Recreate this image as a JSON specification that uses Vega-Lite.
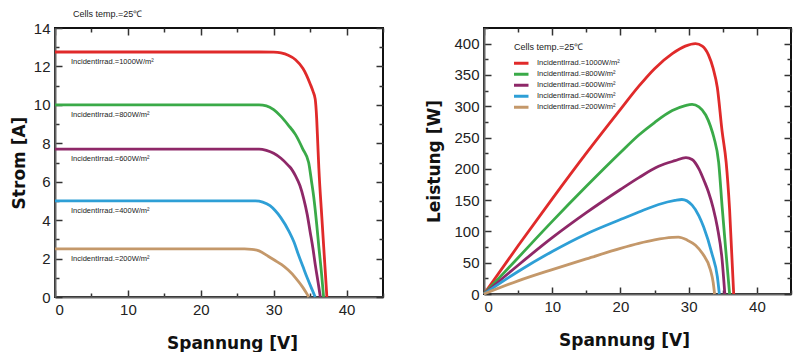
{
  "$schema": "https://vega.github.io/schema/vega-lite/v6.json",
  "background": "white",
  "padding": {"left": 9, "top": 9, "right": 6, "bottom": 0},
  "spacing": 101,
  "bounds": "flush",
  "config": {
    "view": {"stroke": "#111", "strokeWidth": 2},
    "axis": {
      "grid": false,
      "labelFont": "Liberation Sans",
      "labelFontSize": 15,
      "labelColor": "#222",
      "titleFont": "DejaVu Sans",
      "titleFontSize": 17,
      "titleFontWeight": "bold",
      "titleColor": "#111",
      "domainColor": "#666",
      "domainWidth": 2,
      "tickColor": "#333",
      "tickWidth": 1.5
    }
  },
  "datasets": {
    "iv": [
      {"s": "IncidentIrrad.=1000W/m²", "V": 0, "I": 12.75},
      {"s": "IncidentIrrad.=1000W/m²", "V": 10, "I": 12.75},
      {"s": "IncidentIrrad.=1000W/m²", "V": 20, "I": 12.75},
      {"s": "IncidentIrrad.=1000W/m²", "V": 28, "I": 12.75},
      {"s": "IncidentIrrad.=1000W/m²", "V": 30, "I": 12.74},
      {"s": "IncidentIrrad.=1000W/m²", "V": 31, "I": 12.7},
      {"s": "IncidentIrrad.=1000W/m²", "V": 32, "I": 12.58},
      {"s": "IncidentIrrad.=1000W/m²", "V": 33, "I": 12.35},
      {"s": "IncidentIrrad.=1000W/m²", "V": 34, "I": 11.9},
      {"s": "IncidentIrrad.=1000W/m²", "V": 34.5, "I": 11.55},
      {"s": "IncidentIrrad.=1000W/m²", "V": 35, "I": 11.1},
      {"s": "IncidentIrrad.=1000W/m²", "V": 35.4, "I": 10.7},
      {"s": "IncidentIrrad.=1000W/m²", "V": 35.7, "I": 10.3},
      {"s": "IncidentIrrad.=1000W/m²", "V": 35.9, "I": 9.3},
      {"s": "IncidentIrrad.=1000W/m²", "V": 36.05, "I": 8.0},
      {"s": "IncidentIrrad.=1000W/m²", "V": 36.2, "I": 6.7},
      {"s": "IncidentIrrad.=1000W/m²", "V": 36.6, "I": 4.2},
      {"s": "IncidentIrrad.=1000W/m²", "V": 37.0, "I": 1.8},
      {"s": "IncidentIrrad.=1000W/m²", "V": 37.3, "I": 0},
      {"s": "IncidentIrrad.=800W/m²", "V": 0, "I": 10.0},
      {"s": "IncidentIrrad.=800W/m²", "V": 28, "I": 10.0},
      {"s": "IncidentIrrad.=800W/m²", "V": 29, "I": 9.95},
      {"s": "IncidentIrrad.=800W/m²", "V": 30, "I": 9.75},
      {"s": "IncidentIrrad.=800W/m²", "V": 31, "I": 9.4},
      {"s": "IncidentIrrad.=800W/m²", "V": 32, "I": 8.95},
      {"s": "IncidentIrrad.=800W/m²", "V": 33, "I": 8.45},
      {"s": "IncidentIrrad.=800W/m²", "V": 34, "I": 7.7},
      {"s": "IncidentIrrad.=800W/m²", "V": 34.8, "I": 7.0},
      {"s": "IncidentIrrad.=800W/m²", "V": 35.2, "I": 6.0},
      {"s": "IncidentIrrad.=800W/m²", "V": 35.5, "I": 5.2},
      {"s": "IncidentIrrad.=800W/m²", "V": 35.9, "I": 3.8},
      {"s": "IncidentIrrad.=800W/m²", "V": 36.2, "I": 2.6},
      {"s": "IncidentIrrad.=800W/m²", "V": 36.55, "I": 1.3},
      {"s": "IncidentIrrad.=800W/m²", "V": 36.85, "I": 0},
      {"s": "IncidentIrrad.=600W/m²", "V": 0, "I": 7.7},
      {"s": "IncidentIrrad.=600W/m²", "V": 28, "I": 7.7},
      {"s": "IncidentIrrad.=600W/m²", "V": 29, "I": 7.63},
      {"s": "IncidentIrrad.=600W/m²", "V": 30, "I": 7.48},
      {"s": "IncidentIrrad.=600W/m²", "V": 31, "I": 7.22},
      {"s": "IncidentIrrad.=600W/m²", "V": 32, "I": 6.85},
      {"s": "IncidentIrrad.=600W/m²", "V": 32.5, "I": 6.63},
      {"s": "IncidentIrrad.=600W/m²", "V": 33, "I": 6.3},
      {"s": "IncidentIrrad.=600W/m²", "V": 33.6, "I": 5.8},
      {"s": "IncidentIrrad.=600W/m²", "V": 34.1, "I": 5.15},
      {"s": "IncidentIrrad.=600W/m²", "V": 34.6, "I": 4.3},
      {"s": "IncidentIrrad.=600W/m²", "V": 35, "I": 3.4},
      {"s": "IncidentIrrad.=600W/m²", "V": 35.4, "I": 2.5},
      {"s": "IncidentIrrad.=600W/m²", "V": 35.7, "I": 1.7},
      {"s": "IncidentIrrad.=600W/m²", "V": 36.1, "I": 0.75},
      {"s": "IncidentIrrad.=600W/m²", "V": 36.4, "I": 0},
      {"s": "IncidentIrrad.=400W/m²", "V": 0, "I": 5.0},
      {"s": "IncidentIrrad.=400W/m²", "V": 27.5, "I": 5.0},
      {"s": "IncidentIrrad.=400W/m²", "V": 28.5, "I": 4.94},
      {"s": "IncidentIrrad.=400W/m²", "V": 29.5, "I": 4.75},
      {"s": "IncidentIrrad.=400W/m²", "V": 30.2, "I": 4.5},
      {"s": "IncidentIrrad.=400W/m²", "V": 31, "I": 4.12},
      {"s": "IncidentIrrad.=400W/m²", "V": 32.1, "I": 3.42},
      {"s": "IncidentIrrad.=400W/m²", "V": 32.8, "I": 2.85},
      {"s": "IncidentIrrad.=400W/m²", "V": 33.4, "I": 2.2},
      {"s": "IncidentIrrad.=400W/m²", "V": 34, "I": 1.6},
      {"s": "IncidentIrrad.=400W/m²", "V": 34.6, "I": 1.0},
      {"s": "IncidentIrrad.=400W/m²", "V": 35.2, "I": 0.45},
      {"s": "IncidentIrrad.=400W/m²", "V": 35.7, "I": 0},
      {"s": "IncidentIrrad.=200W/m²", "V": 0, "I": 2.5},
      {"s": "IncidentIrrad.=200W/m²", "V": 26, "I": 2.5},
      {"s": "IncidentIrrad.=200W/m²", "V": 27, "I": 2.48},
      {"s": "IncidentIrrad.=200W/m²", "V": 28, "I": 2.4},
      {"s": "IncidentIrrad.=200W/m²", "V": 29.3, "I": 2.11},
      {"s": "IncidentIrrad.=200W/m²", "V": 30.2, "I": 1.9},
      {"s": "IncidentIrrad.=200W/m²", "V": 31.1, "I": 1.68},
      {"s": "IncidentIrrad.=200W/m²", "V": 32, "I": 1.4},
      {"s": "IncidentIrrad.=200W/m²", "V": 33, "I": 1.0},
      {"s": "IncidentIrrad.=200W/m²", "V": 34, "I": 0.5},
      {"s": "IncidentIrrad.=200W/m²", "V": 34.5, "I": 0.2},
      {"s": "IncidentIrrad.=200W/m²", "V": 34.8, "I": 0}
    ],
    "pv": [
      {"s": "IncidentIrrad.=1000W/m²", "V": 0, "P": 0},
      {"s": "IncidentIrrad.=1000W/m²", "V": 5, "P": 77},
      {"s": "IncidentIrrad.=1000W/m²", "V": 10, "P": 152},
      {"s": "IncidentIrrad.=1000W/m²", "V": 15, "P": 225},
      {"s": "IncidentIrrad.=1000W/m²", "V": 20, "P": 295},
      {"s": "IncidentIrrad.=1000W/m²", "V": 22.7, "P": 332},
      {"s": "IncidentIrrad.=1000W/m²", "V": 25, "P": 360},
      {"s": "IncidentIrrad.=1000W/m²", "V": 27.6, "P": 384},
      {"s": "IncidentIrrad.=1000W/m²", "V": 29.5, "P": 396},
      {"s": "IncidentIrrad.=1000W/m²", "V": 31, "P": 400},
      {"s": "IncidentIrrad.=1000W/m²", "V": 32, "P": 396},
      {"s": "IncidentIrrad.=1000W/m²", "V": 32.9, "P": 382},
      {"s": "IncidentIrrad.=1000W/m²", "V": 33.6, "P": 360},
      {"s": "IncidentIrrad.=1000W/m²", "V": 34.2, "P": 330},
      {"s": "IncidentIrrad.=1000W/m²", "V": 34.9, "P": 260},
      {"s": "IncidentIrrad.=1000W/m²", "V": 35.5, "P": 210},
      {"s": "IncidentIrrad.=1000W/m²", "V": 36.0, "P": 135},
      {"s": "IncidentIrrad.=1000W/m²", "V": 36.6, "P": 0},
      {"s": "IncidentIrrad.=800W/m²", "V": 0, "P": 0},
      {"s": "IncidentIrrad.=800W/m²", "V": 5, "P": 58},
      {"s": "IncidentIrrad.=800W/m²", "V": 10, "P": 116},
      {"s": "IncidentIrrad.=800W/m²", "V": 15, "P": 172},
      {"s": "IncidentIrrad.=800W/m²", "V": 20, "P": 226},
      {"s": "IncidentIrrad.=800W/m²", "V": 22.7, "P": 254},
      {"s": "IncidentIrrad.=800W/m²", "V": 25, "P": 274},
      {"s": "IncidentIrrad.=800W/m²", "V": 27.6, "P": 293},
      {"s": "IncidentIrrad.=800W/m²", "V": 29.5, "P": 301},
      {"s": "IncidentIrrad.=800W/m²", "V": 30.5, "P": 303},
      {"s": "IncidentIrrad.=800W/m²", "V": 31.5, "P": 299},
      {"s": "IncidentIrrad.=800W/m²", "V": 32.5, "P": 286},
      {"s": "IncidentIrrad.=800W/m²", "V": 33.2, "P": 268},
      {"s": "IncidentIrrad.=800W/m²", "V": 33.7, "P": 250},
      {"s": "IncidentIrrad.=800W/m²", "V": 34.4, "P": 210},
      {"s": "IncidentIrrad.=800W/m²", "V": 34.9, "P": 140},
      {"s": "IncidentIrrad.=800W/m²", "V": 35.4, "P": 75},
      {"s": "IncidentIrrad.=800W/m²", "V": 36.0, "P": 0},
      {"s": "IncidentIrrad.=600W/m²", "V": 0, "P": 0},
      {"s": "IncidentIrrad.=600W/m²", "V": 5, "P": 46},
      {"s": "IncidentIrrad.=600W/m²", "V": 10, "P": 90},
      {"s": "IncidentIrrad.=600W/m²", "V": 15, "P": 130},
      {"s": "IncidentIrrad.=600W/m²", "V": 20, "P": 167},
      {"s": "IncidentIrrad.=600W/m²", "V": 22.7, "P": 186},
      {"s": "IncidentIrrad.=600W/m²", "V": 25.6, "P": 204},
      {"s": "IncidentIrrad.=600W/m²", "V": 28, "P": 213},
      {"s": "IncidentIrrad.=600W/m²", "V": 29.6, "P": 218},
      {"s": "IncidentIrrad.=600W/m²", "V": 30.5, "P": 215},
      {"s": "IncidentIrrad.=600W/m²", "V": 31.5, "P": 200},
      {"s": "IncidentIrrad.=600W/m²", "V": 32.3, "P": 180},
      {"s": "IncidentIrrad.=600W/m²", "V": 32.9, "P": 163},
      {"s": "IncidentIrrad.=600W/m²", "V": 33.6, "P": 137},
      {"s": "IncidentIrrad.=600W/m²", "V": 34.2, "P": 107},
      {"s": "IncidentIrrad.=600W/m²", "V": 34.9, "P": 55},
      {"s": "IncidentIrrad.=600W/m²", "V": 35.3, "P": 0},
      {"s": "IncidentIrrad.=400W/m²", "V": 0, "P": 0},
      {"s": "IncidentIrrad.=400W/m²", "V": 5, "P": 36},
      {"s": "IncidentIrrad.=400W/m²", "V": 10, "P": 68},
      {"s": "IncidentIrrad.=400W/m²", "V": 15, "P": 96},
      {"s": "IncidentIrrad.=400W/m²", "V": 20, "P": 119},
      {"s": "IncidentIrrad.=400W/m²", "V": 22.7, "P": 131},
      {"s": "IncidentIrrad.=400W/m²", "V": 25.6, "P": 143},
      {"s": "IncidentIrrad.=400W/m²", "V": 28, "P": 149.5},
      {"s": "IncidentIrrad.=400W/m²", "V": 29, "P": 151},
      {"s": "IncidentIrrad.=400W/m²", "V": 30.5, "P": 142},
      {"s": "IncidentIrrad.=400W/m²", "V": 31.5, "P": 125},
      {"s": "IncidentIrrad.=400W/m²", "V": 32.2, "P": 107},
      {"s": "IncidentIrrad.=400W/m²", "V": 33.4, "P": 65},
      {"s": "IncidentIrrad.=400W/m²", "V": 34.2, "P": 28},
      {"s": "IncidentIrrad.=400W/m²", "V": 34.5, "P": 0},
      {"s": "IncidentIrrad.=200W/m²", "V": 0, "P": 0},
      {"s": "IncidentIrrad.=200W/m²", "V": 5, "P": 21},
      {"s": "IncidentIrrad.=200W/m²", "V": 10, "P": 39},
      {"s": "IncidentIrrad.=200W/m²", "V": 15, "P": 56},
      {"s": "IncidentIrrad.=200W/m²", "V": 20, "P": 73},
      {"s": "IncidentIrrad.=200W/m²", "V": 22.7, "P": 81},
      {"s": "IncidentIrrad.=200W/m²", "V": 25, "P": 86.5},
      {"s": "IncidentIrrad.=200W/m²", "V": 27.6, "P": 90.5},
      {"s": "IncidentIrrad.=200W/m²", "V": 28.5, "P": 91},
      {"s": "IncidentIrrad.=200W/m²", "V": 29.8, "P": 86},
      {"s": "IncidentIrrad.=200W/m²", "V": 31, "P": 78},
      {"s": "IncidentIrrad.=200W/m²", "V": 32, "P": 65},
      {"s": "IncidentIrrad.=200W/m²", "V": 33.2, "P": 38},
      {"s": "IncidentIrrad.=200W/m²", "V": 33.6, "P": 18},
      {"s": "IncidentIrrad.=200W/m²", "V": 33.8, "P": 0}
    ]
  },
  "resolve": {"scale": {"color": "independent"}},
  "hconcat": [
    {
      "width": 328,
      "height": 269,
      "title": {"text": "Cells temp.=25℃", "anchor": "start", "frame": "group", "fontSize": 9, "fontWeight": "normal", "font": "Liberation Sans", "color": "#222", "dx": 18, "offset": 2},
      "data": {"name": "iv"},
      "layer": [
        {
          "mark": {"type": "line", "strokeWidth": 2.8, "interpolate": "monotone"},
          "encoding": {
            "x": {"field": "V", "type": "quantitative", "scale": {"domain": [0, 45], "nice": false},
              "axis": {"title": "Spannung [V]", "values": [0,5,10,15,20,25,30,35,40,45], "labelExpr": "datum.value % 10 === 0 ? datum.label : ''",
                "tickSize": {"condition": {"test": "datum.value % 10 === 0", "value": -7}, "value": -4}, "labelPadding": 12, "titlePadding": 18, "titleX": 177}},
            "y": {"field": "I", "type": "quantitative", "scale": {"domain": [0, 14], "nice": false},
              "axis": {"title": "Strom [A]", "values": [0,1,2,3,4,5,6,7,8,9,10,11,12,13,14], "labelExpr": "datum.value % 2 === 0 ? datum.label : ''",
                "tickSize": {"condition": {"test": "datum.value % 2 === 0", "value": -7}, "value": -4}, "labelPadding": 12, "titlePadding": 5}},
            "color": {"field": "s", "type": "nominal", "sort": null, "legend": null,
              "scale": {"domain": ["IncidentIrrad.=1000W/m²", "IncidentIrrad.=800W/m²", "IncidentIrrad.=600W/m²", "IncidentIrrad.=400W/m²", "IncidentIrrad.=200W/m²"],
                "range": ["#e02a2a", "#3aaa48", "#8e2868", "#2e9fd6", "#c4986a"]}}
          }
        },
        {
          "transform": [{"filter": "datum.V === 0"}],
          "mark": {"type": "text", "align": "left", "baseline": "middle", "dx": 16, "dy": 10, "fontSize": 7.5, "font": "Liberation Sans", "color": "#222"},
          "encoding": {
            "x": {"field": "V", "type": "quantitative", "axis": null},
            "y": {"field": "I", "type": "quantitative", "axis": null},
            "text": {"field": "s"}
          }
        },
        {
          "mark": {"type": "line", "opacity": 0},
          "encoding": {
            "x": {"field": "V", "type": "quantitative",
              "axis": {"orient": "top", "title": null, "labels": false, "domain": false, "values": [0,5,10,15,20,25,30,35,40,45],
                "tickSize": {"condition": {"test": "datum.value % 10 === 0", "value": -7}, "value": -4}}},
            "y": {"field": "I", "type": "quantitative",
              "axis": {"orient": "right", "title": null, "labels": false, "domain": false, "values": [0,1,2,3,4,5,6,7,8,9,10,11,12,13,14],
                "tickSize": {"condition": {"test": "datum.value % 2 === 0", "value": -7}, "value": -4}}},
            "detail": {"field": "s"}
          }
        }
      ],
      "resolve": {"axis": {"x": "independent", "y": "independent"}}
    },
    {
      "width": 307,
      "height": 266,
      "data": {"name": "pv"},
      "layer": [
        {
          "mark": {"type": "line", "strokeWidth": 2.8, "interpolate": "monotone"},
          "encoding": {
            "x": {"field": "V", "type": "quantitative", "scale": {"domain": [0, 45], "nice": false},
              "axis": {"title": "Spannung [V]", "values": [0,5,10,15,20,25,30,35,40,45], "labelExpr": "datum.value % 10 === 0 ? datum.label : ''",
                "tickSize": {"condition": {"test": "datum.value % 10 === 0", "value": -7}, "value": -4}, "labelPadding": 12, "titlePadding": 18, "titleX": 140}},
            "y": {"field": "P", "type": "quantitative", "scale": {"domain": [0, 425], "nice": false},
              "axis": {"title": "Leistung [W]", "values": [0,25,50,75,100,125,150,175,200,225,250,275,300,325,350,375,400,425], "labelExpr": "datum.value % 50 === 0 ? datum.label : ''",
                "tickSize": {"condition": {"test": "datum.value % 50 === 0", "value": -7}, "value": -4}, "labelPadding": 12, "titlePadding": 10}},
            "color": {"field": "s", "type": "nominal", "sort": null,
              "scale": {"domain": ["IncidentIrrad.=1000W/m²", "IncidentIrrad.=800W/m²", "IncidentIrrad.=600W/m²", "IncidentIrrad.=400W/m²", "IncidentIrrad.=200W/m²"],
                "range": ["#e02a2a", "#3aaa48", "#8e2868", "#2e9fd6", "#c4986a"]},
              "legend": {"title": "Cells temp.=25℃", "orient": "none", "legendX": 30, "legendY": 15,
                "titleFont": "Liberation Sans", "titleFontSize": 9, "titleFontWeight": "normal", "titleColor": "#222", "titlePadding": 6,
                "labelFont": "Liberation Sans", "labelFontSize": 7.5, "labelColor": "#222",
                "symbolType": "M-3.65,0H3.65", "symbolStrokeWidth": 3, "symbolSize": 30, "rowPadding": 0, "clipHeight": 10.3, "labelOffset": 14}}
          }
        },
        {
          "mark": {"type": "line", "opacity": 0},
          "encoding": {
            "x": {"field": "V", "type": "quantitative",
              "axis": {"orient": "top", "title": null, "labels": false, "domain": false, "values": [0,5,10,15,20,25,30,35,40,45],
                "tickSize": {"condition": {"test": "datum.value % 10 === 0", "value": -7}, "value": -4}}},
            "y": {"field": "P", "type": "quantitative",
              "axis": {"orient": "right", "title": null, "labels": false, "domain": false, "values": [0,25,50,75,100,125,150,175,200,225,250,275,300,325,350,375,400,425],
                "tickSize": {"condition": {"test": "datum.value % 50 === 0", "value": -7}, "value": -4}}},
            "detail": {"field": "s"}
          }
        }
      ],
      "resolve": {"axis": {"x": "independent", "y": "independent"}}
    }
  ]
}
